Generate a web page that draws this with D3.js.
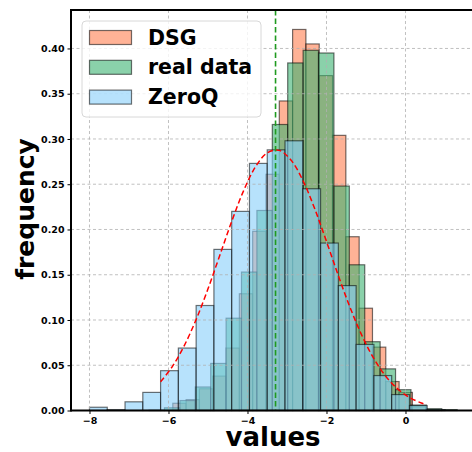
<!DOCTYPE html>
<html><head><meta charset="utf-8">
<script src="https://cdn.jsdelivr.net/npm/d3@7"></script>
<style>body{margin:0;background:#fff}svg{display:block}</style>
</head><body>
<svg id="c" width="472" height="452"></svg>
<script>
// ---- data ----
const dsgEdges = [-5.891,-5.554,-5.217,-4.88,-4.543,-4.206,-3.869,-3.532,-3.195,-2.858,-2.521,-2.184,-1.847,-1.51,-1.173,-0.836,-0.499,-0.162,0.175,0.512,0.849];
const dsgFreq = [0.008,0.012,0.024,0.038,0.069,0.129,0.198,0.261,0.342,0.421,0.405,0.37,0.304,0.192,0.113,0.07,0.032,0.02,0.004,0.001];
const realEdges = [-6.492,-6.102,-5.712,-5.322,-4.932,-4.542,-4.152,-3.762,-3.372,-2.982,-2.592,-2.202,-1.812,-1.422,-1.032,-0.642,-0.252,0.138,0.528,0.918,1.308];
const realFreq = [0.0005,0.003,0.011,0.026,0.052,0.102,0.153,0.221,0.316,0.384,0.398,0.395,0.248,0.161,0.076,0.046,0.023,0.006,0.002,0.001];
const zeroqEdges = [-8.0,-7.55,-7.1,-6.65,-6.2,-5.75,-5.3,-4.85,-4.4,-3.95,-3.5,-3.05,-2.6,-2.15,-1.7,-1.25,-0.8,-0.35,0.1,0.55,1.0];
const zeroqFreq = [0.0036,0.001,0.0096,0.020,0.044,0.069,0.116,0.178,0.220,0.273,0.288,0.298,0.245,0.185,0.138,0.073,0.0386,0.0176,0.0055,0.001];
const fitX = [-6.2,-5.9,-5.6,-5.3,-5.0,-4.7,-4.4,-4.1,-3.8,-3.5,-3.2,-2.9,-2.6,-2.3,-2.0,-1.7,-1.4,-1.1,-0.8,-0.5,-0.2,0.1,0.4,0.5];
const fitY = [0.0317,0.0488,0.0717,0.1005,0.1344,0.1716,0.2089,0.2427,0.2691,0.2847,0.2874,0.2768,0.2544,0.2231,0.1867,0.1490,0.1135,0.0825,0.0572,0.0379,0.0239,0.0144,0.0083,0.0068];
const meanLine = -3.29;
const xTicks = [-8,-6,-4,-2,0];
const yTicks = [0,0.05,0.10,0.15,0.20,0.25,0.30,0.35,0.40];
const seriesNames = ["DSG","real data","ZeroQ"];
const seriesColors = ["#FF7F50","#3CB371","#87CEFA"];

// ---- layout ----
const svg = d3.select("#c");
const L = 71, T = 10, B = 410.5, R = 480;
const x = d3.scaleLinear().domain([-8.468, 1.886]).range([L, R]);
const y = d3.scaleLinear().domain([0, 0.4425]).range([B, T]);
const font = "'DejaVu Sans', sans-serif";

const series = [
  {edges: dsgEdges, freq: dsgFreq, color: seriesColors[0]},
  {edges: realEdges, freq: realFreq, color: seriesColors[1]},
  {edges: zeroqEdges, freq: zeroqFreq, color: seriesColors[2]}
];

const plot = svg.append("g");
series.forEach(s => {
  const bins = s.freq.map((f, i) => ({x0: s.edges[i], x1: s.edges[i+1], f}));
  plot.append("g").selectAll("rect").data(bins).join("rect")
    .attr("x", d => x(d.x0))
    .attr("width", d => x(d.x1) - x(d.x0))
    .attr("y", d => y(d.f))
    .attr("height", d => y(0) - y(d.f))
    .attr("fill", s.color).attr("fill-opacity", 0.6)
    .attr("stroke", "#000").attr("stroke-opacity", 0.55).attr("stroke-width", 1.2);
});

// grid
const grid = svg.append("g");
grid.selectAll(".gx").data(xTicks).join("line")
  .attr("x1", d => x(d)).attr("x2", d => x(d)).attr("y1", T).attr("y2", B)
  .attr("stroke", "#b0b0b0").attr("stroke-width", 0.8).attr("stroke-dasharray", "3,2.5");
grid.selectAll(".gy").data(yTicks).join("line")
  .attr("x1", L).attr("x2", R).attr("y1", d => y(d)).attr("y2", d => y(d))
  .attr("stroke", "#b0b0b0").attr("stroke-width", 0.8).attr("stroke-dasharray", "3,2.5");

// fit curve
const line = d3.line().x((d, i) => x(fitX[i])).y(d => y(d)).curve(d3.curveCatmullRom);
svg.append("path").datum(fitY).attr("d", line)
  .attr("fill", "none").attr("stroke", "#ff0000").attr("stroke-width", 1.5)
  .attr("stroke-dasharray", "5.5,3");

// mean line
svg.append("line").attr("x1", x(meanLine)).attr("x2", x(meanLine)).attr("y1", T).attr("y2", B)
  .attr("stroke", "#1f9a1f").attr("stroke-width", 1.6).attr("stroke-dasharray", "5.5,3");

// axes
const xAxis = d3.axisBottom(x).tickValues(xTicks).tickSize(3.5).tickPadding(3)
  .tickFormat(d => d < 0 ? "\u2212" + Math.abs(d) : String(d));
const gx = svg.append("g").attr("transform", `translate(0,${B})`).call(xAxis);
const yAxis = d3.axisLeft(y).tickValues(yTicks).tickSize(3.5).tickPadding(3)
  .tickFormat(d3.format(".2f"));
const gy = svg.append("g").attr("transform", `translate(${L},0)`).call(yAxis);
[gx, gy].forEach(g => {
  g.select(".domain").remove();
  g.selectAll("text").attr("font-family", font).attr("font-weight", "bold").attr("font-size", 9.5).attr("fill", "#000");
  g.selectAll("line").attr("stroke", "#000").attr("stroke-width", 1);
});

// spines
svg.append("line").attr("x1", L).attr("x2", L).attr("y1", T - 1).attr("y2", B + 1).attr("stroke", "#000").attr("stroke-width", 2);
svg.append("line").attr("x1", L).attr("x2", R).attr("y1", T).attr("y2", T).attr("stroke", "#000").attr("stroke-width", 2);
svg.append("line").attr("x1", L).attr("x2", R).attr("y1", B).attr("y2", B).attr("stroke", "#000").attr("stroke-width", 2);

// axis labels
svg.append("text").attr("x", 273).attr("y", 445.5).attr("text-anchor", "middle")
  .attr("font-family", font).attr("font-weight", "bold").attr("font-size", 26).text("values");
svg.append("text").attr("transform", "translate(33.5,209) rotate(-90)").attr("text-anchor", "middle")
  .attr("font-family", font).attr("font-weight", "bold").attr("font-size", 25).text("frequency");

// legend
const lg = svg.append("g");
lg.append("rect").attr("x", 82).attr("y", 21).attr("width", 179).attr("height", 96).attr("rx", 4)
  .attr("fill", "#fff").attr("fill-opacity", 0.8).attr("stroke", "#d8d8d8").attr("stroke-width", 1);
seriesNames.forEach((n, i) => {
  const yy = 30.5 + i * 29.8;
  lg.append("rect").attr("x", 89.5).attr("y", yy).attr("width", 42).attr("height", 14)
    .attr("fill", seriesColors[i]).attr("fill-opacity", 0.6)
    .attr("stroke", "#000").attr("stroke-opacity", 0.55).attr("stroke-width", 1.2);
  lg.append("text").attr("x", 148).attr("y", yy + 14).attr("font-family", font).attr("font-weight", "bold")
    .attr("font-size", 20.5).text(n);
});
</script>
</body></html>
